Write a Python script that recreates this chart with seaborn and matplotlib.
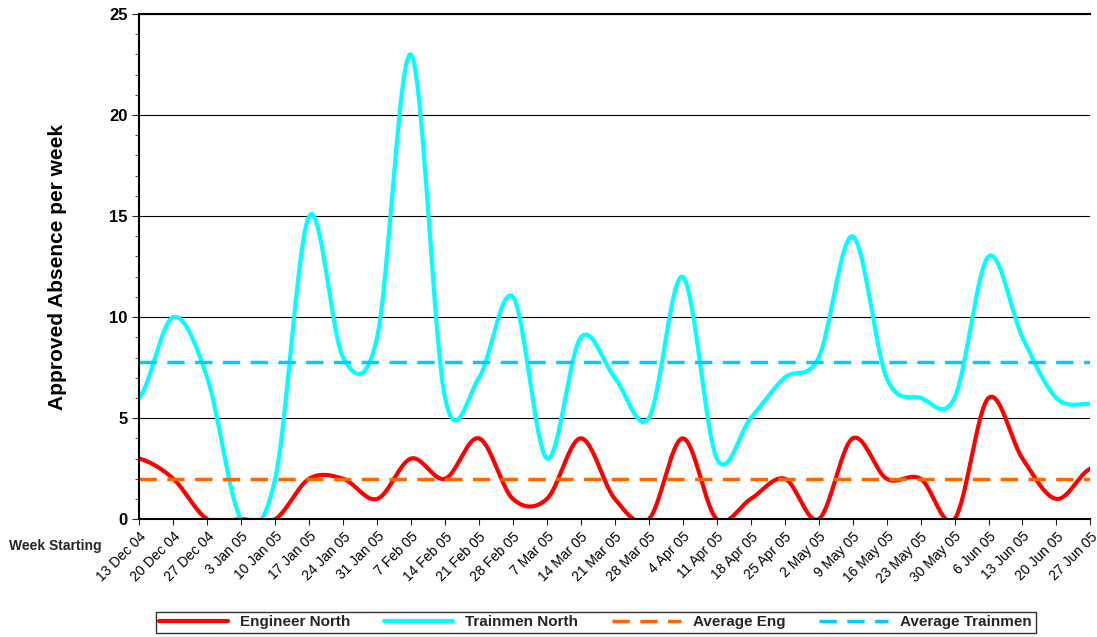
import numpy as np
import pandas as pd
import matplotlib.pyplot as plt
import seaborn as sns
from matplotlib.ticker import MultipleLocator

weeks = ["13 Dec 04", "20 Dec 04", "27 Dec 04", "3 Jan 05", "10 Jan 05", "17 Jan 05",
         "24 Jan 05", "31 Jan 05", "7 Feb 05", "14 Feb 05", "21 Feb 05", "28 Feb 05",
         "7 Mar 05", "14 Mar 05", "21 Mar 05", "28 Mar 05", "4 Apr 05", "11 Apr 05",
         "18 Apr 05", "25 Apr 05", "2 May 05", "9 May 05", "16 May 05", "23 May 05",
         "30 May 05", "6 Jun 05", "13 Jun 05", "20 Jun 05", "27 Jun 05"]
engineer_north = [3, 2, 0, 0, 0, 2, 2, 1, 3, 2, 4, 1, 1, 4, 1, 0, 4, 0, 1, 2, 0, 4,
                  2, 2, 0, 6, 3, 1, 2.5]
trainmen_north = [6, 10, 7, 0, 2, 15, 8, 9, 23, 6, 7, 11, 3, 9, 7, 5, 12, 3, 5, 7, 8, 14,
                  7, 6, 6, 13, 9, 6, 5.7]
avg_eng = 2.0
avg_trainmen = 7.8


def smooth(y, n=20):
    # Catmull-Rom spline, similar to Excel's smoothed line
    y = np.asarray(y, float)
    p = np.concatenate([[y[0]], y, [y[-1]]])
    xs, ys = [], []
    for i in range(len(y) - 1):
        p0, p1, p2, p3 = p[i], p[i + 1], p[i + 2], p[i + 3]
        t = np.linspace(0, 1, n, endpoint=False)
        v = 0.5 * (2 * p1 + (-p0 + p2) * t + (2 * p0 - 5 * p1 + 4 * p2 - p3) * t ** 2
                   + (-p0 + 3 * p1 - 3 * p2 + p3) * t ** 3)
        xs.append(i + t)
        ys.append(v)
    xs.append([len(y) - 1])
    ys.append([y[-1]])
    return np.concatenate(xs), np.concatenate(ys)


sns.set_style("white")
plt.rcParams["font.family"] = ["Liberation Sans", "DejaVu Sans"]

fig = plt.figure(figsize=(10.97, 6.37), dpi=100)
ax = fig.add_axes([0.127, 0.185, 0.867, 0.793])

xe, ye = smooth(engineer_north)
xt, yt = smooth(trainmen_north)
sns.lineplot(x=xe, y=ye, ax=ax, color="#ff0000", linewidth=3, label="Engineer North")
sns.lineplot(x=xt, y=yt, ax=ax, color="#00ffff", linewidth=3, label="Trainmen North")
ax.axhline(avg_eng, color="#ff6600", linewidth=2.5, linestyle=(0, (5, 3)), label="Average Eng")
ax.axhline(avg_trainmen, color="#00ccff", linewidth=2.5, linestyle=(0, (5, 3)),
           label="Average Trainmen")

ax.set_xlim(0, len(weeks) - 1)
ax.set_ylim(0, 25)
ax.yaxis.set_major_locator(MultipleLocator(5))
ax.yaxis.set_minor_locator(MultipleLocator(1))
ax.grid(axis="y", which="major", color="black", linewidth=0.8)
ax.set_axisbelow(True)
ax.tick_params(axis="y", which="both", left=True, direction="out", labelsize=12,
               labelcolor="black")
ax.tick_params(axis="y", which="major", length=5)
ax.tick_params(axis="y", which="minor", length=3)
for lab in ax.get_yticklabels():
    lab.set_fontweight("bold")
ax.set_xticks(range(len(weeks)))
ax.set_xticklabels(weeks, rotation=45, ha="right", rotation_mode="anchor", fontsize=10,
                   color="black")
ax.tick_params(axis="x", bottom=True, length=4)
ax.set_ylabel("Approved Absence per week", fontsize=15, fontweight="bold", color="black",
              labelpad=30)
for s in ["left", "top", "bottom"]:
    ax.spines[s].set_color("black")
    ax.spines[s].set_linewidth(1.5)
ax.spines["right"].set_visible(False)

fig.text(0.008, 0.137, "Week Starting", fontsize=10, fontweight="bold")

ax.get_legend().remove()
handles, labels = ax.get_legend_handles_labels()
fig.legend(handles, labels, loc="center", bbox_to_anchor=(0.543, 0.023), ncol=4,
           frameon=True, fancybox=False, edgecolor="black",
           prop={"weight": "bold", "size": 11}, handlelength=4.5, columnspacing=2.2,
           borderpad=0.25)

fig.savefig("out.png", dpi=100)
